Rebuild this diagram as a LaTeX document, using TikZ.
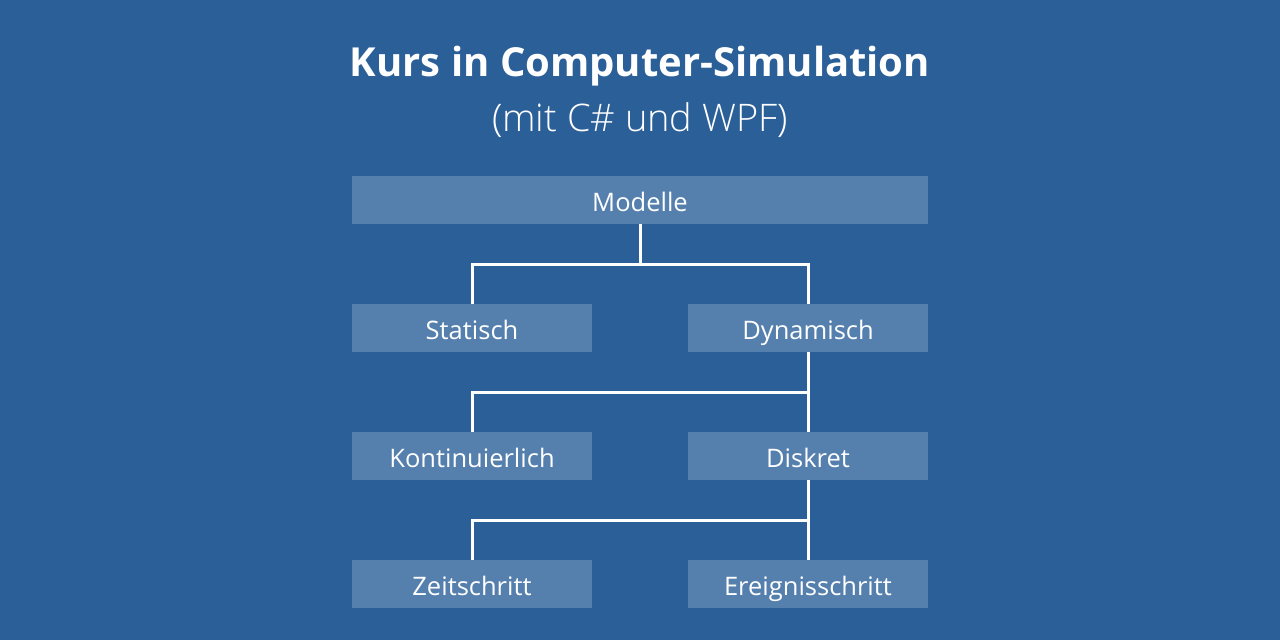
\documentclass[tikz,border=0pt]{standalone}
\usepackage{fontspec}
\setmainfont{Open Sans}
\newfontfamily\lightfont{Open Sans Light}
\definecolor{bg}{HTML}{2B5F98}
\definecolor{boxc}{HTML}{5580AE}
\begin{document}
\begin{tikzpicture}[x=1pt,y=-1pt,
  box/.style={fill=boxc,draw=none,minimum width=#1,minimum height=48pt,inner sep=0pt,text height=22pt,text depth=0pt,text=white,font=\fontsize{25.5}{30}\selectfont},
  conn/.style={draw=white,line width=3pt}]
\fill[bg] (0,0) rectangle (1280,640);
\useasboundingbox (0,0) rectangle (1280,640);
\node[anchor=base,text=white,font=\fontsize{40}{46}\selectfont\bfseries] (title) at (640,76) {Kurs in Computer-Simulation};
\node[anchor=base,text=white,font=\fontsize{38}{44}\selectfont\lightfont] (sub) at (640,131) {(mit C\# und WPF)};
\node[box=576pt] (mod) at (640,200) {Modelle};
\node[box=240pt] (sta) at (472,328) {Statisch};
\node[box=240pt] (dyn) at (808,328) {Dynamisch};
\node[box=240pt] (kon) at (472,456) {Kontinuierlich};
\node[box=240pt] (dis) at (808,456) {Diskret};
\node[box=240pt] (zei) at (472,584) {Zeitschritt};
\node[box=240pt] (ere) at (808,584) {Ereignisschritt};
\coordinate (j1) at (640,264);
\coordinate (j2) at (808,392);
\coordinate (j3) at (808,520);
\draw[conn] (mod.south) -- (j1);
\draw[conn] (j1) -| (sta.north);
\draw[conn] (j1) -| (dyn.north);
\draw[conn] (dyn.south) -- (dis.north);
\draw[conn] (j2) -| (kon.north);
\draw[conn] (dis.south) -- (ere.north);
\draw[conn] (j3) -| (zei.north);
\end{tikzpicture}
\end{document}
